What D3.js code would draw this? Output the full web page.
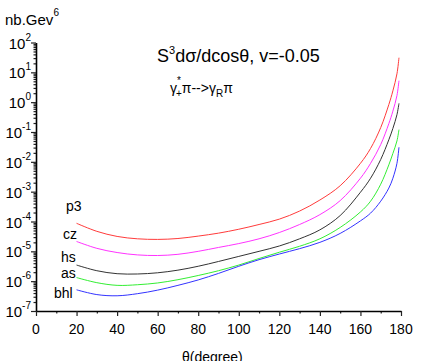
<!DOCTYPE html>
<html>
<head>
<meta charset="utf-8">
<script src="https://cdn.jsdelivr.net/npm/d3@7"></script>
<style>
  body { margin: 0; background: #fff; }
  svg { display: block; font-family: "Liberation Sans", Arial, sans-serif; }
</style>
</head>
<body>
<div id="chart"></div>
<script>
var theta = [20, 30, 40, 50, 60, 70, 80, 90, 100, 110, 120, 130, 140, 150, 160, 165, 170, 174, 176, 178, 179];

// S^3 dsigma/dcos(theta), nb.GeV^6
var p3  = [8.7e-5, 4.68e-5, 3.16e-5, 2.63e-5, 2.51e-5, 2.69e-5, 3.24e-5, 4.07e-5, 5.5e-5, 7.94e-5, 1.2e-4, 2.24e-4, 5.25e-4, 1.58e-3, 8.91e-3, 2.82e-2, 1.41e-1, 8.32e-1, 2.4, 8.91, 30.9];
var cz  = [2.14e-5, 1.26e-5, 9.12e-6, 7.59e-6, 7.24e-6, 7.94e-6, 1.0e-5, 1.35e-5, 1.82e-5, 2.63e-5, 4.27e-5, 7.94e-5, 1.7e-4, 5.01e-4, 2.82e-3, 8.91e-3, 3.8e-2, 1.91e-1, 5.01e-1, 1.66, 5.25];
var hs  = [3.47e-6, 2.24e-6, 1.78e-6, 1.74e-6, 1.91e-6, 2.34e-6, 3.16e-6, 4.57e-6, 6.76e-6, 1.0e-5, 1.51e-5, 2.63e-5, 5.25e-5, 1.58e-4, 9.55e-4, 2.82e-3, 1.2e-2, 5.5e-2, 1.32e-1, 3.8e-1, 0.912];
var as  = [1.32e-6, 8.91e-7, 7.24e-7, 7.59e-7, 8.71e-7, 1.12e-6, 1.55e-6, 2.24e-6, 3.47e-6, 5.75e-6, 9.33e-6, 1.48e-5, 2.63e-5, 6.31e-5, 2.09e-4, 4.79e-4, 1.78e-3, 7.94e-3, 1.91e-2, 5.01e-2, 0.12];
var bhl = [5.13e-7, 3.55e-7, 3.24e-7, 3.8e-7, 5.01e-7, 7.24e-7, 1.1e-6, 1.82e-6, 3.16e-6, 5.25e-6, 8.13e-6, 1.23e-5, 2.0e-5, 3.98e-5, 1.05e-4, 1.91e-4, 4.79e-4, 1.32e-3, 2.82e-3, 8.91e-3, 3.09e-2];

var series = [
  {name: "p3",  values: p3,  color: "#ff3b3b", lx: 66, ly: 211},
  {name: "cz",  values: cz,  color: "#ff33ff", lx: 63, ly: 239},
  {name: "hs",  values: hs,  color: "#333333", lx: 61, ly: 262},
  {name: "as",  values: as,  color: "#33ee33", lx: 61, ly: 278},
  {name: "bhl", values: bhl, color: "#3333ff", lx: 54, ly: 298}
];

var xTicks = [0, 20, 40, 60, 80, 100, 120, 140, 160, 180];
var yExps = [-7, -6, -5, -4, -3, -2, -1, 0, 1, 2];

var W = 439, H = 361;

var svg = d3.select("#chart").append("svg")
    .attr("width", W)
    .attr("height", H);

var x = d3.scaleLinear().domain([0, 180]).range([36, 401]);
var y = d3.scaleLog().domain([1e-7, 1e2]).range([311, 42.5]);

// minor tick positions
var xMinor = d3.range(10, 180, 20);
var yMinor = [];
yExps.slice(0, -1).forEach(function(e) {
  for (var k = 2; k <= 9; k++) yMinor.push(k * Math.pow(10, e));
});

// y axis
svg.append("g")
    .attr("transform", "translate(" + x(0) + ",0)")
    .call(d3.axisLeft(y).tickValues(yMinor).tickSize(2.5).tickFormat(""))
    .call(function(g) { g.select(".domain").remove(); });
svg.append("g")
    .attr("transform", "translate(" + x(0) + ",0)")
    .call(d3.axisLeft(y).tickValues(yExps.map(function(e) { return Math.pow(10, e); })).tickSize(5).tickSizeOuter(0).tickFormat(""))
    .call(function(g) { g.select(".domain").attr("stroke-width", 1.6); });

// x axis
svg.append("g")
    .attr("transform", "translate(0," + y(1e-7) + ")")
    .call(d3.axisBottom(x).tickValues(xMinor).tickSize(2.5).tickFormat(""))
    .call(function(g) { g.select(".domain").remove(); });
svg.append("g")
    .attr("transform", "translate(0," + y(1e-7) + ")")
    .call(d3.axisBottom(x).tickValues(xTicks).tickSize(5).tickSizeOuter(0).tickFormat(""))
    .call(function(g) { g.select(".domain").attr("stroke-width", 1.6); });

svg.selectAll(".tick line").attr("stroke", "#222").attr("stroke-width", 1.2);

// y tick labels 10^n
var yl = svg.append("g").selectAll("text")
    .data(yExps)
    .enter()
    .append("text")
    .attr("x", 31)
    .attr("y", function(d) { return y(Math.pow(10, d)) + 6; })
    .attr("text-anchor", "end")
    .attr("font-size", 15)
    .attr("fill", "#000");
yl.append("tspan").text("10");
yl.append("tspan")
    .attr("dy", -8)
    .attr("font-size", 10)
    .text(function(d) { return d; });

// x tick labels
svg.append("g").selectAll("text")
    .data(xTicks)
    .enter()
    .append("text")
    .attr("x", function(d) { return x(d); })
    .attr("y", 334)
    .attr("text-anchor", "middle")
    .attr("font-size", 14)
    .text(function(d) { return d; });

// curves
var line = d3.line()
    .x(function(d, i) { return x(theta[i]); })
    .y(function(d) { return y(d); })
    .curve(d3.curveCatmullRom.alpha(0.5));

svg.append("g").selectAll("path")
    .data(series)
    .enter()
    .append("path")
    .attr("d", function(d) { return line(d.values); })
    .attr("fill", "none")
    .attr("stroke", function(d) { return d.color; })
    .attr("stroke-width", 1);

// curve labels
svg.append("g").selectAll("text")
    .data(series)
    .enter()
    .append("text")
    .attr("x", function(d) { return d.lx; })
    .attr("y", function(d) { return d.ly; })
    .attr("font-size", 14)
    .text(function(d) { return d.name; });

// unit label
var unit = svg.append("text")
    .attr("x", 5)
    .attr("y", 25)
    .attr("font-size", 15);
unit.append("tspan").text("nb.Gev");
unit.append("tspan").attr("dy", -9).attr("font-size", 10).text("6");

// title
var title = svg.append("text")
    .attr("x", 157)
    .attr("y", 62)
    .attr("font-size", 18);
title.append("tspan").text("S");
title.append("tspan").attr("dy", -8).attr("font-size", 11).text("3");
title.append("tspan").attr("dy", 8).text("d\u03c3/dcos\u03b8, v=-0.05");

var sub = svg.append("text")
    .attr("x", 170)
    .attr("y", 93)
    .attr("font-size", 14);
sub.append("tspan").text("\u03b3");
sub.append("tspan").attr("dy", -9).attr("font-size", 10).text("*");
sub.append("tspan").attr("dy", 13).attr("dx", -5).attr("font-size", 10).text("+");
sub.append("tspan").attr("dy", -4).text("\u03c0-->\u03b3");
sub.append("tspan").attr("dy", 4).attr("font-size", 10).text("R");
sub.append("tspan").attr("dy", -4).text("\u03c0");

// x axis title
svg.append("text")
    .attr("x", 182)
    .attr("y", 362)
    .attr("font-size", 14)
    .text("\u03b8(degree)");
</script>
</body>
</html>
